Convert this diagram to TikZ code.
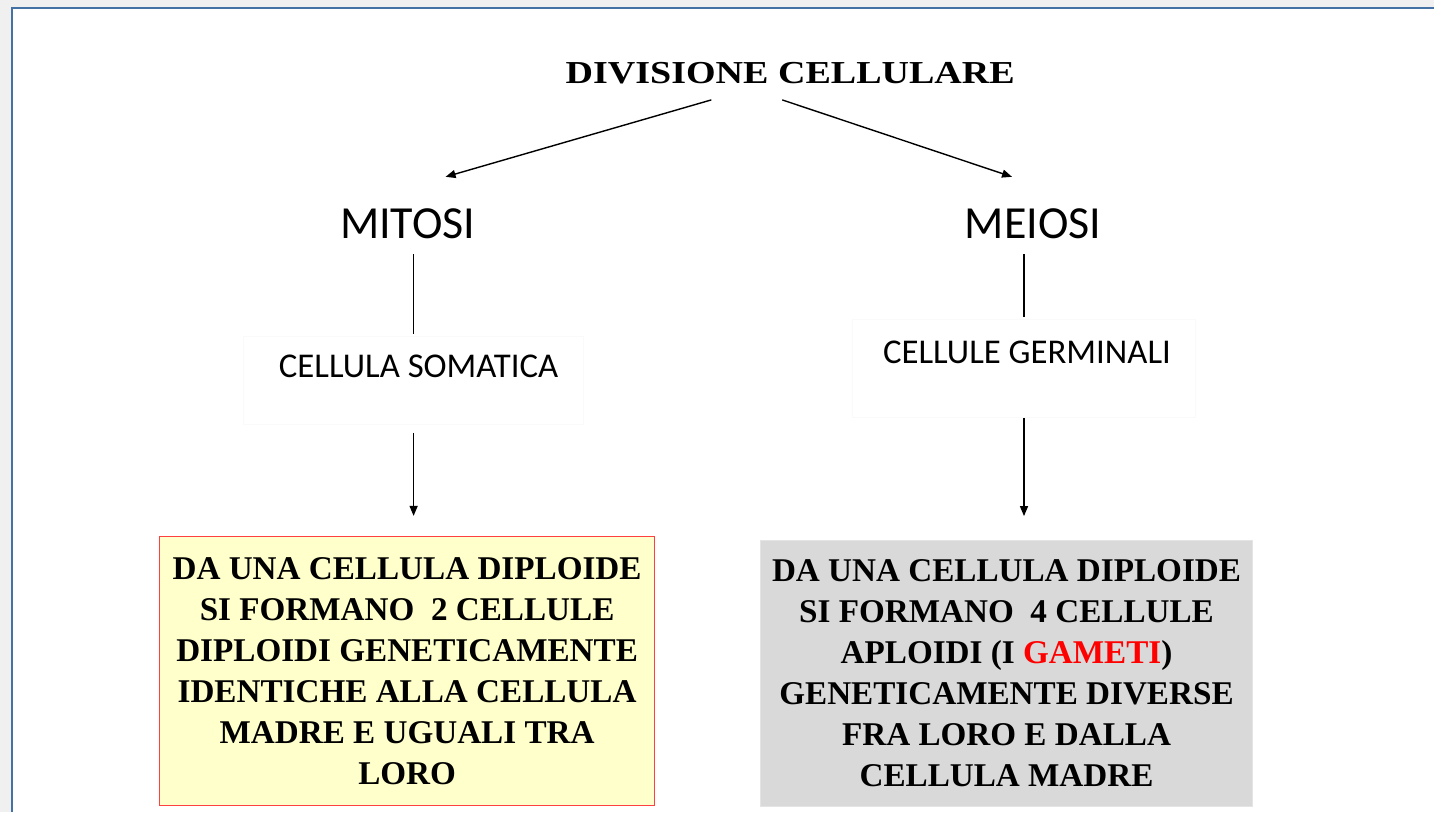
\documentclass[tikz,border=0pt]{standalone}
\usepackage{fontspec}
\setmainfont{Liberation Serif}
\newfontfamily\calibri{Carlito}
\usetikzlibrary{arrows.meta}

\definecolor{framebg}{RGB}{240,240,240}
\definecolor{frameblue}{RGB}{68,114,164}
\definecolor{boxyellow}{RGB}{255,255,204}
\definecolor{boxgrey}{RGB}{217,217,217}
\definecolor{faintline}{RGB}{250,250,250}

\tikzset{
  arr/.style={-{Triangle[length=5pt,width=4pt]},line width=0.7pt},
  conn/.style={line width=0.6pt},
  titletext/.style={inner sep=0pt,font=\fontsize{16}{19}\selectfont\bfseries},
  bigtext/.style={inner sep=0pt,font=\calibri\fontsize{23}{27}\selectfont},
  smalltext/.style={inner sep=0pt,font=\calibri\fontsize{17.4}{21}\selectfont},
  labelbox/.style={draw=faintline,line width=0.4pt,inner sep=0pt},
  resultbox/.style={align=center,inner sep=0pt,
    font=\fontsize{16.6}{20.5}\selectfont\bfseries}
}

\begin{document}
\begin{tikzpicture}[x=0.5pt,y=0.5pt,yscale=-1]

        % window frame
        \fill[framebg] (0,0) rectangle (1435,813);
        \fill[white] (12,8) rectangle (1435,813);
        \draw[frameblue,line width=1.4pt] (12,813) -- (12,8) -- (1435,8);
        \useasboundingbox (0,0) rectangle (1435,813);

        \node (title) at (791,73) [titletext] {\scalebox{1.19}[1]{DIVISIONE CELLULARE}};
        \node (mitosi) at (408,224) [bigtext] {MITOSI};
        \node (meiosi) at (1034,224) [bigtext] {MEIOSI};

        \node (somabox) at (414,381) [labelbox,minimum width=170pt,minimum height=44pt] {};
        \node (germbox) at (1025,369) [labelbox,minimum width=172pt,minimum height=49pt] {};
        \node (somatica) at (419,367) [smalltext] {CELLULA SOMATICA};
        \node (germinali) at (1028,353) [smalltext] {CELLULE GERMINALI};

        \node (mitobox) at (407.5,671.5) [resultbox,draw=red!75,line width=0.6pt,fill=boxyellow,
            minimum width=247.5pt,minimum height=134.5pt]
            {DA UNA CELLULA DIPLOIDE\\SI FORMANO\ \ 2 CELLULE\\DIPLOIDI GENETICAMENTE\\IDENTICHE ALLA CELLULA\\MADRE E UGUALI TRA\\LORO};
        \node (meiobox) at (1007.5,674) [resultbox,draw=boxgrey!70!white,line width=0.4pt,fill=boxgrey,
            minimum width=246.5pt,minimum height=133pt]
            {DA UNA CELLULA DIPLOIDE\\SI FORMANO\ \ 4 CELLULE\\APLOIDI (I \textcolor{red}{GAMETI})\\GENETICAMENTE DIVERSE\\FRA LORO E DALLA\\CELLULA MADRE};

        \coordinate (splitl) at (712,100);
        \coordinate (splitr) at (783,100);
        \coordinate (tomitosi) at (446,177);
        \coordinate (tomeiosi) at (1013,177);

        \draw[arr] (splitl) -- (tomitosi);
        \draw[arr] (splitr) -- (tomeiosi);
        \draw[conn,shorten <=7.5pt,shorten >=1pt] (somabox.north |- mitosi.south) -- (somabox.north);
        \draw[conn,shorten <=7.5pt,shorten >=1pt] (germbox.north |- meiosi.south) -- (germbox.north);
        \draw[arr,shorten <=4pt,shorten >=10pt] (somabox.south) -- (somabox.south |- mitobox.north);
        \draw[arr,shorten >=12pt] (germbox.south) -- (germbox.south |- meiobox.north);
    \end{tikzpicture}
\end{document}
